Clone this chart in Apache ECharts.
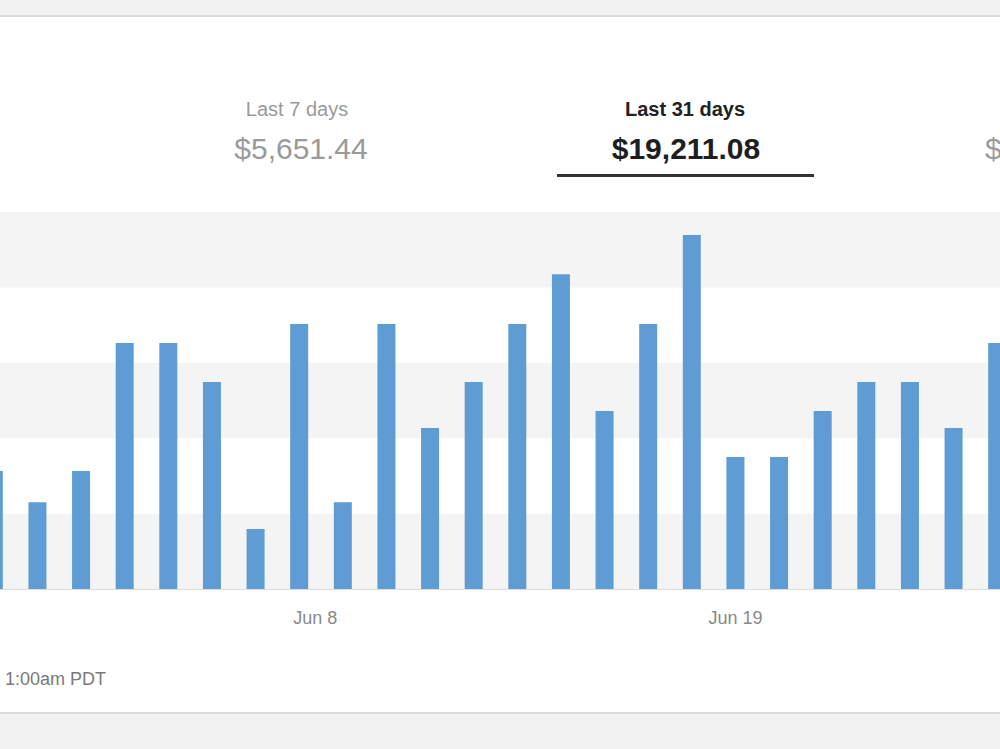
<!DOCTYPE html>
<html>
<head>
<meta charset="utf-8">
<script src="https://cdn.jsdelivr.net/npm/echarts@6/dist/echarts.min.js"></script>
<style>
  html, body { margin: 0; padding: 0; background: #ffffff; overflow: hidden; width: 1000px; height: 749px; position: relative; }
  #chart { position: absolute; left: -28px; top: 0; width: 1047px; height: 749px; }
</style>
</head>
<body>
<div id="chart"></div>
<script>
// Visible days (the screenshot is cropped on both sides)
const categories = ['D1','D2','D3','D4','D5','D6','D7','D8','D9','D10','D11','D12',
                    'D13','D14','D15','D16','D17','D18','D19','D20','D21','D22','D23','D24'];
const tickLabels = ['','','','','','','','Jun 8','','','','','','','','','','Jun 19','','','','','',''];
// Daily sales (USD)
const sales = [391, 288, 391, 816, 816, 686, 199, 879, 288, 879, 534, 686,
               879, 1044, 590, 879, 1174, 438, 438, 590, 686, 686, 534, 816];
const tabLabels = ['Last 7 days', 'Last 31 days'];
const tabTotals = ['$5,651.44', '$19,211.08'];
const footnote = '1:00am PDT';

const chart = echarts.init(document.getElementById('chart'), null, { renderer: 'svg' });
const FONT = '"Liberation Sans", Arial, Helvetica, sans-serif';
const OX = 28; // chart container is shifted left by this many pixels

chart.setOption({
  backgroundColor: '#ffffff',
  animation: false,
  grid: { left: 0, right: 0, top: 212, bottom: 160, containLabel: false },
  xAxis: {
    type: 'category',
    data: categories,
    axisLine: { show: true, lineStyle: { color: '#dddddd', width: 1 } },
    axisTick: { show: false },
    splitLine: { show: false },
    axisLabel: {
      interval: 0,
      margin: 20,
      color: '#8a8a8a',
      fontFamily: FONT,
      fontSize: 18,
      formatter: function (v, i) {
        const t = tickLabels[i];
        if (!t) return '';
        return i === 7 ? '{s|' + t + '}' : t;
      },
      rich: { s: { padding: [0, 0, 0, 32], color: '#8a8a8a', fontFamily: FONT, fontSize: 18 } }
    }
  },
  yAxis: {
    type: 'value',
    min: 0, max: 1250, interval: 250,
    axisLabel: { show: false },
    axisLine: { show: false },
    axisTick: { show: false },
    splitLine: { show: false },
    splitArea: { show: true, areaStyle: { color: ['#f4f4f4', '#ffffff'] } }
  },
  series: [{
    type: 'bar',
    data: sales,
    barWidth: 18,
    itemStyle: { color: '#5e9cd3' }
  }],
  graphic: [
    { type: 'rect', shape: { x: 0, y: 0, width: 1047, height: 16 }, style: { fill: '#f2f2f2' }, silent: true },
    { type: 'rect', shape: { x: 0, y: 15, width: 1047, height: 2 }, style: { fill: '#dcdcdc' }, silent: true },
    { type: 'rect', shape: { x: 0, y: 713, width: 1047, height: 36 }, style: { fill: '#f2f2f2' }, silent: true },
    { type: 'rect', shape: { x: 0, y: 712, width: 1047, height: 2 }, style: { fill: '#dcdcdc' }, silent: true },
    { type: 'text', style: { x: OX + 297, y: 109, text: tabLabels[0], align: 'center', verticalAlign: 'middle', fill: '#9a9a9a', font: '20px ' + FONT } },
    { type: 'text', style: { x: OX + 301, y: 148, text: tabTotals[0], align: 'center', verticalAlign: 'middle', fill: '#9a9a9a', font: '30px ' + FONT } },
    { type: 'text', style: { x: OX + 685, y: 109, text: tabLabels[1], align: 'center', verticalAlign: 'middle', fill: '#222222', font: 'bold 20px ' + FONT } },
    { type: 'text', style: { x: OX + 686, y: 148, text: tabTotals[1], align: 'center', verticalAlign: 'middle', fill: '#1e1e1e', font: 'bold 30px ' + FONT } },
    { type: 'rect', shape: { x: OX + 557, y: 174, width: 257, height: 3 }, style: { fill: '#333333' }, silent: true },
    { type: 'text', style: { x: OX + 985, y: 148, text: '$', align: 'left', verticalAlign: 'middle', fill: '#9a9a9a', font: '30px ' + FONT } },
    { type: 'text', style: { x: OX + 106, y: 679, text: footnote, align: 'right', verticalAlign: 'middle', fill: '#7a7a7a', font: '18px ' + FONT } }
  ]
});
</script>
</body>
</html>
